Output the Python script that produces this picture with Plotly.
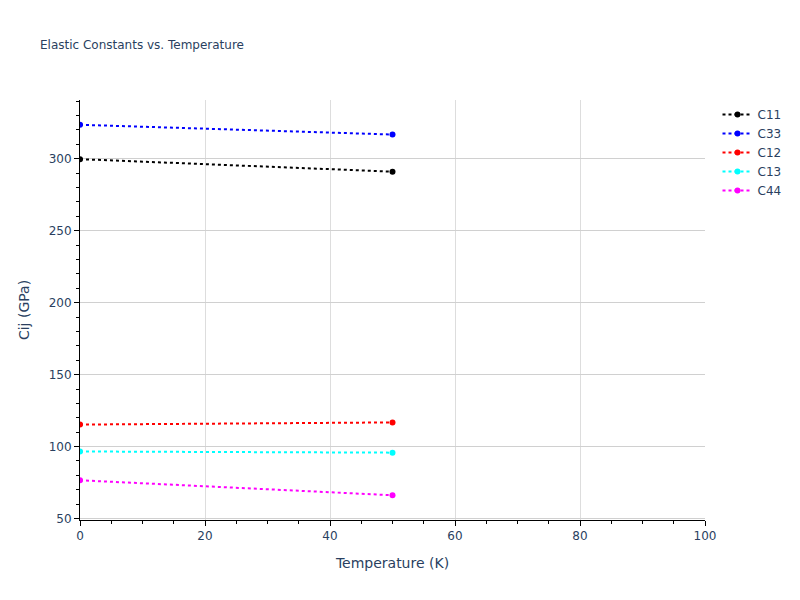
import plotly.graph_objects as go

temperature = [0, 50]
c11 = [299.7, 291.0]
c33 = [323.6, 316.8]
c12 = [115.3, 116.8]
c13 = [96.6, 95.8]
c44 = [76.6, 66.2]

series = [("C11", c11, "black"), ("C33", c33, "blue"), ("C12", c12, "red"),
          ("C13", c13, "cyan"), ("C44", c44, "magenta")]

fig = go.Figure()
for name, vals, color in series:
    fig.add_trace(go.Scatter(x=temperature, y=vals, mode="lines+markers", name=name,
                             line=dict(color=color, dash="dot", width=2),
                             marker=dict(color=color, size=6)))

fig.update_layout(
    template="plotly_white",
    width=792, height=592,
    margin=dict(l=72, r=95, t=92, b=80),
    font=dict(family="DejaVu Sans"),
    title=dict(text="Elastic Constants vs. Temperature", font=dict(size=12),
               x=32/792, xanchor="left", y=1 - 37/592, yanchor="middle"),
    xaxis=dict(title=dict(text="Temperature (K)", font=dict(size=14)), range=[0, 100],
               showline=True, linecolor="black", ticks="outside", tickcolor="black",
               dtick=20, minor=dict(ticks="outside", dtick=5, tickcolor="black", showgrid=False),
               gridcolor="#dddddd", zeroline=False),
    yaxis=dict(title=dict(text="Cij (GPa)", font=dict(size=14)),
               showline=True, linecolor="black", ticks="outside", tickcolor="black",
               dtick=50, minor=dict(ticks="outside", dtick=10, tickcolor="black", showgrid=False),
               gridcolor="#d0d0d0", zeroline=False),
)
fig.write_html("out.html")
